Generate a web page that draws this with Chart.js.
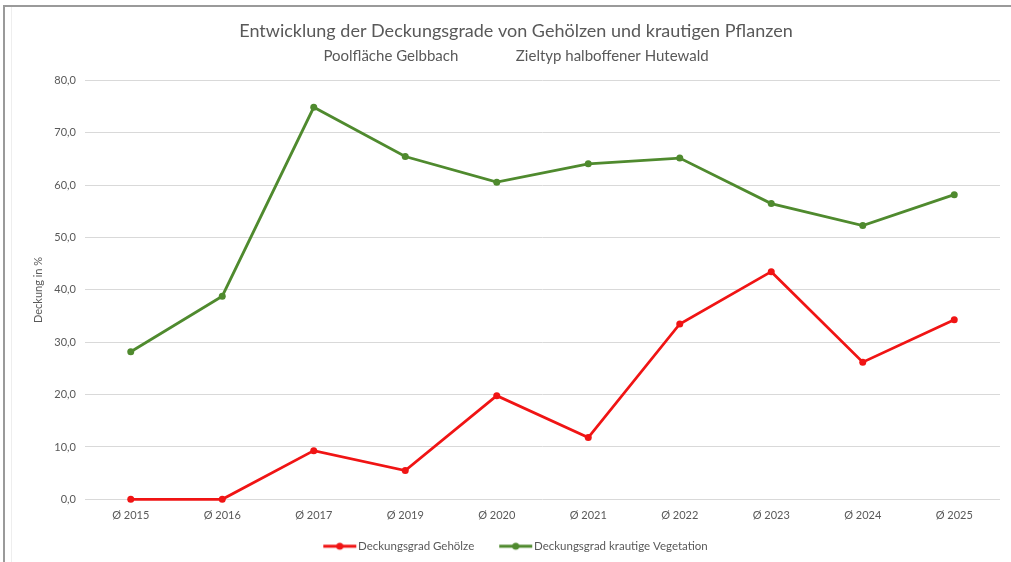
<!DOCTYPE html>
<html>
<head>
<meta charset="utf-8">
<script src="https://cdn.jsdelivr.net/npm/chart.js@4.4.1/dist/chart.umd.min.js"></script>
<style>
  html, body { margin: 0; padding: 0; background: #ffffff; }
  #wrap { position: relative; width: 1011px; height: 562px; overflow: hidden; }
  #frame { position: absolute; left: 3px; top: 5px; right: 0; bottom: 0;
           border-left: 2px solid #9a9a9a; border-top: 2px solid #9a9a9a; pointer-events: none; }
  #inner { position: absolute; left: 11px; top: 7px; bottom: 0; width: 1px; background: #eeeeee; }
  canvas { position: absolute; left: 0; top: 0; }
</style>
</head>
<body>
<div id="wrap">
  <canvas id="c" width="1011" height="562"></canvas>
  <div id="frame"></div>
  <div id="inner"></div>
</div>
<script>
const categories = ['Ø 2015', 'Ø 2016', 'Ø 2017', 'Ø 2019', 'Ø 2020', 'Ø 2021', 'Ø 2022', 'Ø 2023', 'Ø 2024', 'Ø 2025'];
const gehoelze = [0.0, 0.0, 9.3, 5.5, 19.8, 11.8, 33.5, 43.5, 26.2, 34.3];
const krautig = [28.2, 38.8, 74.9, 65.5, 60.6, 64.1, 65.2, 56.5, 52.3, 58.2];
const yTicks = [0, 10, 20, 30, 40, 50, 60, 70, 80];
const seriesNames = ['Deckungsgrad Gehölze', 'Deckungsgrad krautige Vegetation'];
const titleText = 'Entwicklung der Deckungsgrade von Gehölzen und krautigen Pflanzen';
const subtitleText = 'Poolfläche Gelbbach               Zieltyp halboffener Hutewald';
const yTitle = 'Deckung in %';

const RED = '#f01414';
const GREEN = '#4f8a2e';
const TXT = '#595959';
const FONT = 'Lato, "Open Sans", sans-serif';
const LEGEND_TRIM = 18;

function legendIcon(color) {
  const cv = document.createElement('canvas');
  cv.width = 40; cv.height = 10;
  const g = cv.getContext('2d');
  g.strokeStyle = color; g.lineWidth = 3;
  g.beginPath(); g.moveTo(5, 5); g.lineTo(38, 5); g.stroke();
  g.fillStyle = color;
  g.beginPath(); g.arc(21.5, 5, 3.5, 0, Math.PI * 2); g.fill();
  return cv;
}

// keeps the wide horizontal gap between legend items without growing the legend box
const legendTrim = {
  id: 'legendTrim',
  beforeLayout(chart) {
    const lg = chart.legend;
    if (!lg || lg._trimmed) return;
    lg._trimmed = true;
    const fit = lg.fit.bind(lg);
    lg.fit = function () { fit(); this.height = Math.max(0, this.height - LEGEND_TRIM); };
    const draw = lg.draw.bind(lg);
    lg.draw = function () {
      const t = this.top, h = this.height;
      this.top = t - LEGEND_TRIM; this.height = h + LEGEND_TRIM;
      draw();
      this.top = t; this.height = h;
    };
  }
};

new Chart(document.getElementById('c'), {
  type: 'line',
  plugins: [legendTrim],
  data: {
    labels: categories,
    datasets: [
      { label: seriesNames[0], data: gehoelze, borderColor: RED, backgroundColor: RED,
        borderWidth: 2.8, pointRadius: 3.5, pointBorderWidth: 0, tension: 0, clip: false },
      { label: seriesNames[1], data: krautig, borderColor: GREEN, backgroundColor: GREEN,
        borderWidth: 2.8, pointRadius: 3.5, pointBorderWidth: 0, tension: 0, clip: false }
    ]
  },
  options: {
    responsive: false,
    animation: false,
    layout: { padding: { left: 32, right: 11, top: 0, bottom: 0 } },
    plugins: {
      title: { display: true, text: titleText, color: TXT,
               font: { family: FONT, size: 18, weight: 'normal' }, padding: { top: 20, bottom: 4 } },
      subtitle: { display: true, text: subtitleText, color: TXT,
               font: { family: FONT, size: 15, weight: 'normal' }, padding: { top: 2, bottom: 15 } },
      legend: { position: 'bottom',
        labels: { color: TXT, font: { family: FONT, size: 11.5 }, usePointStyle: true,
          pointStyleWidth: 28, padding: 26,
          generateLabels(chart) {
            return chart.data.datasets.map((ds, i) => ({
              text: ds.label, fontColor: TXT, pointStyle: legendIcon(ds.borderColor),
              datasetIndex: i, hidden: false, lineWidth: 0, strokeStyle: ds.borderColor, fillStyle: ds.borderColor
            }));
          } } },
      tooltip: { enabled: false }
    },
    scales: {
      x: { offset: true,
           grid: { display: false, drawTicks: false },
           border: { display: false },
           ticks: { color: TXT, font: { family: FONT, size: 11 }, padding: 10, maxRotation: 0 } },
      y: { min: 0, max: 80,
           afterBuildTicks(axis) { axis.ticks = yTicks.map(v => ({ value: v })); },
           afterFit(axis) { axis.width = 53; },
           grid: { color: '#d9d9d9', lineWidth: 1, drawTicks: false },
           border: { display: false },
           ticks: { color: TXT, font: { family: FONT, size: 11 }, padding: 9,
                    callback: v => v.toFixed(1).replace('.', ',') },
           title: { display: true, text: yTitle, color: TXT, font: { family: FONT, size: 11 },
                    padding: { top: 0, bottom: 0 } } }
    }
  }
});
</script>
</body>
</html>
